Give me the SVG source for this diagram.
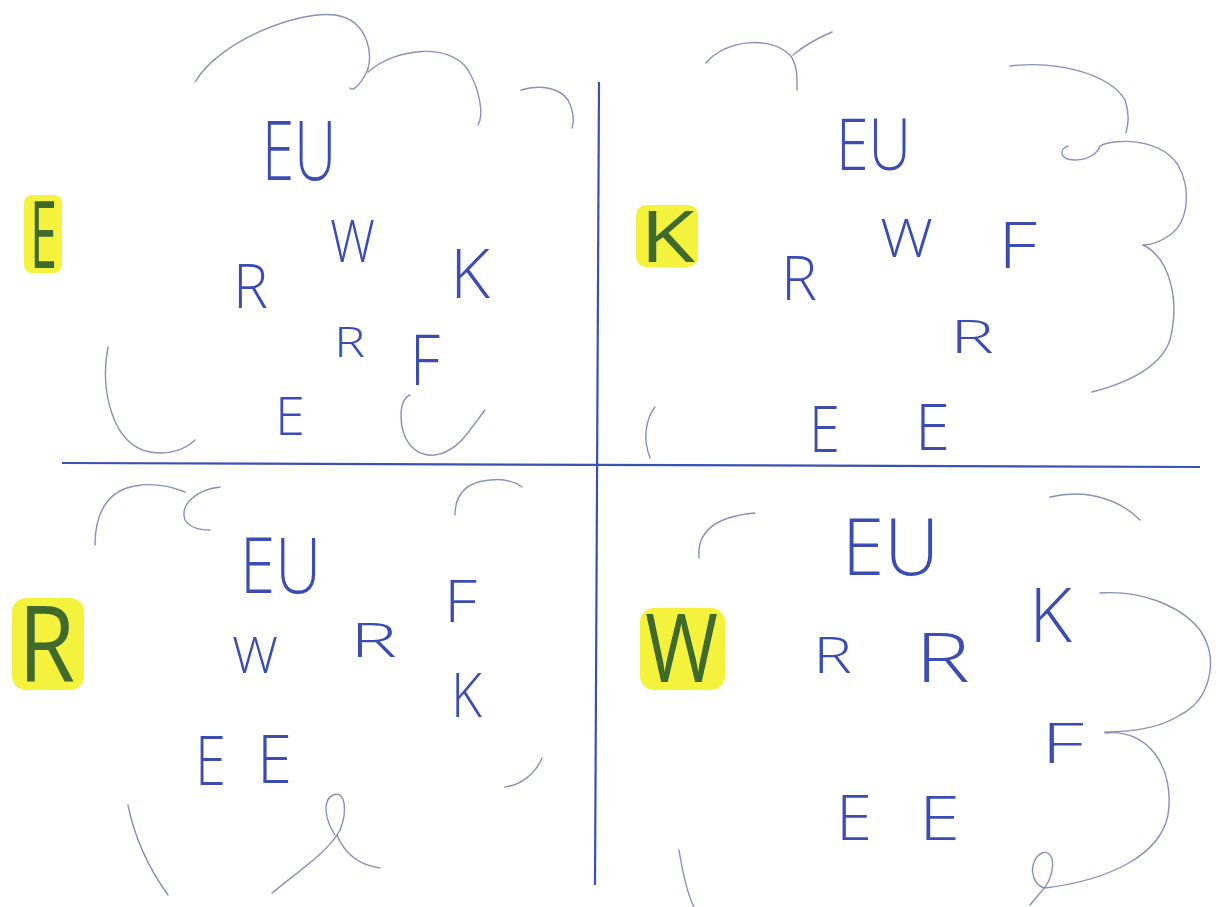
<svg xmlns="http://www.w3.org/2000/svg" width="1218" height="907" viewBox="0 0 1218 907">
<style>
.ink{font-family:"Open Sans","Liberation Sans",sans-serif;font-weight:300;fill:#3b4db3}
.big{font-family:"Open Sans","Liberation Sans",sans-serif;font-weight:400;fill:#3f6a2c}
.hl{fill:#f4f23c}
.cloud{fill:none;stroke:#8a90b6;stroke-width:1.4;stroke-linecap:round}
.axis{fill:none;stroke:#3a50b2;stroke-width:2.2}
</style>
<rect width="1218" height="907" fill="#ffffff"/>
<g id="axes">
<path class="axis" d="M599,82 L595,885"/>
<path class="axis" d="M62,463 L1200,467"/>
</g>
<g id="clouds">
<path class="cloud" d="M195,82 C220,40 300,10 335,15 C370,20 375,60 365,75 C360,85 352,92 350,88"/>
<path class="cloud" d="M368,72 C395,48 450,42 468,70 C480,90 484,115 478,125"/>
<path class="cloud" d="M521,90 C540,84 560,88 568,100 C574,112 574,122 572,128"/>
<path class="cloud" d="M108,347 C100,390 112,445 150,452 C172,456 188,447 195,440"/>
<path class="cloud" d="M410,395 C398,400 398,430 410,445 C425,462 450,458 470,430 L485,410"/>
<path class="cloud" d="M706,63 C725,40 770,35 790,55 C798,65 797,80 797,90"/>
<path class="cloud" d="M793,55 C805,45 820,37 832,32"/>
<path class="cloud" d="M1010,66 C1060,60 1110,75 1125,100 C1130,115 1128,125 1126,133"/>
<path class="cloud" d="M1068,146 C1058,150 1060,160 1075,160 C1090,160 1098,152 1100,146 C1115,138 1160,138 1178,165 C1192,190 1188,222 1170,235 C1160,242 1150,245 1143,245"/>
<path class="cloud" d="M1143,245 C1170,258 1180,300 1170,340 C1160,370 1120,385 1092,392"/>
<path class="cloud" d="M655,407 C645,420 643,440 650,458"/>
<path class="cloud" d="M95,545 C95,510 110,490 135,486 C155,482 175,488 185,492"/>
<path class="cloud" d="M220,487 C195,490 180,505 185,520 C190,528 200,530 210,530"/>
<path class="cloud" d="M455,515 C455,495 465,482 490,480 C505,478 515,482 522,487"/>
<path class="cloud" d="M542,758 C535,775 520,785 505,787"/>
<path class="cloud" d="M335,835 C325,820 322,800 333,795 C345,790 348,810 340,830 C330,850 300,870 272,893"/>
<path class="cloud" d="M337,835 C345,855 360,865 380,868"/>
<path class="cloud" d="M128,805 C135,840 150,870 168,895"/>
<path class="cloud" d="M699,558 C697,535 710,517 755,513"/>
<path class="cloud" d="M1050,497 C1080,490 1115,495 1140,520"/>
<path class="cloud" d="M1100,593 C1140,590 1180,605 1200,630 C1220,660 1210,700 1180,715 C1160,728 1130,732 1105,732"/>
<path class="cloud" d="M1105,733 C1150,728 1175,770 1168,815 C1160,855 1110,880 1045,888 C1030,885 1028,860 1042,853 C1055,848 1058,875 1040,893 L1030,905"/>
<path class="cloud" d="M679,850 C683,875 688,895 694,907"/>
</g>
<g id="q1">
<rect class="hl" x="24" y="195" width="38" height="78" rx="8"/>
<text class="big" x="30" y="268" font-size="94" textLength="27" lengthAdjust="spacingAndGlyphs">E</text>
<text class="ink" x="262" y="180" font-size="83" textLength="74" lengthAdjust="spacingAndGlyphs">EU</text>
<text class="ink" x="330" y="262" font-size="58" textLength="45" lengthAdjust="spacingAndGlyphs">W</text>
<text class="ink" x="233" y="308" font-size="60" textLength="35" lengthAdjust="spacingAndGlyphs">R</text>
<text class="ink" x="450" y="298" font-size="69" textLength="40" lengthAdjust="spacingAndGlyphs">K</text>
<text class="ink" x="334" y="357" font-size="42" textLength="31" lengthAdjust="spacingAndGlyphs">R</text>
<text class="ink" x="410" y="385" font-size="70" textLength="30" lengthAdjust="spacingAndGlyphs">F</text>
<text class="ink" x="275" y="435" font-size="53" textLength="30" lengthAdjust="spacingAndGlyphs">E</text>
</g>
<g id="q2">
<rect class="hl" x="636" y="205" width="62" height="62" rx="10"/>
<text class="big" x="640" y="262" font-size="72" textLength="55" lengthAdjust="spacingAndGlyphs">K</text>
<text class="ink" x="836" y="170" font-size="72" textLength="75" lengthAdjust="spacingAndGlyphs">EU</text>
<text class="ink" x="880" y="257" font-size="54" textLength="53" lengthAdjust="spacingAndGlyphs">W</text>
<text class="ink" x="998" y="268" font-size="64" textLength="39" lengthAdjust="spacingAndGlyphs">F</text>
<text class="ink" x="781" y="300" font-size="60" textLength="36" lengthAdjust="spacingAndGlyphs">R</text>
<text class="ink" x="950" y="353" font-size="46" textLength="44" lengthAdjust="spacingAndGlyphs">R</text>
<text class="ink" x="809" y="452" font-size="65" textLength="31" lengthAdjust="spacingAndGlyphs">E</text>
<text class="ink" x="915" y="450" font-size="65" textLength="35" lengthAdjust="spacingAndGlyphs">E</text>
</g>
<g id="q3">
<rect class="hl" x="12" y="598" width="72" height="92" rx="14"/>
<text class="big" x="18" y="682" font-size="107" textLength="57" lengthAdjust="spacingAndGlyphs">R</text>
<text class="ink" x="240" y="593" font-size="78" textLength="81" lengthAdjust="spacingAndGlyphs">EU</text>
<text class="ink" x="232" y="673" font-size="50" textLength="46" lengthAdjust="spacingAndGlyphs">W</text>
<text class="ink" x="350" y="657" font-size="47" textLength="47" lengthAdjust="spacingAndGlyphs">R</text>
<text class="ink" x="444" y="622" font-size="58" textLength="33" lengthAdjust="spacingAndGlyphs">F</text>
<text class="ink" x="451" y="717" font-size="61" textLength="31" lengthAdjust="spacingAndGlyphs">K</text>
<text class="ink" x="195" y="785" font-size="69" textLength="31" lengthAdjust="spacingAndGlyphs">E</text>
<text class="ink" x="257" y="783" font-size="67" textLength="35" lengthAdjust="spacingAndGlyphs">E</text>
</g>
<g id="q4">
<rect class="hl" x="640" y="608" width="85" height="82" rx="14"/>
<text class="big" x="645" y="682" font-size="96" textLength="73" lengthAdjust="spacingAndGlyphs">W</text>
<text class="ink" x="842" y="575" font-size="79" textLength="97" lengthAdjust="spacingAndGlyphs">EU</text>
<text class="ink" x="813" y="673" font-size="50" textLength="39" lengthAdjust="spacingAndGlyphs">R</text>
<text class="ink" x="915" y="682" font-size="68" textLength="55" lengthAdjust="spacingAndGlyphs">R</text>
<text class="ink" x="1029" y="642" font-size="76" textLength="43" lengthAdjust="spacingAndGlyphs">K</text>
<text class="ink" x="1041" y="763" font-size="56" textLength="43" lengthAdjust="spacingAndGlyphs">F</text>
<text class="ink" x="836" y="840" font-size="62" textLength="36" lengthAdjust="spacingAndGlyphs">E</text>
<text class="ink" x="919" y="840" font-size="60" textLength="41" lengthAdjust="spacingAndGlyphs">E</text>
</g>
</svg>
